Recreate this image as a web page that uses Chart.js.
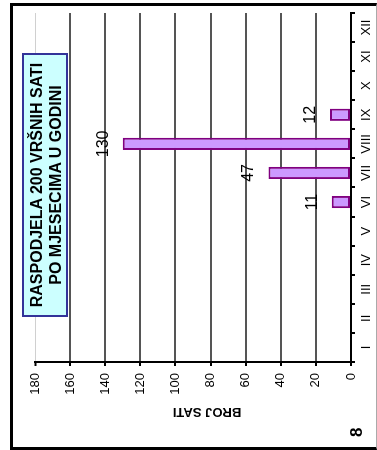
<!DOCTYPE html>
<html>
<head>
<meta charset="utf-8">
<script src="https://cdn.jsdelivr.net/npm/chart.js@4/dist/chart.umd.min.js"></script>
<style>
    html, body { margin: 0; padding: 0; background: #fff; overflow: hidden; }
    /* the whole chart is drawn upright and then turned a quarter to the left */
    #wrap {
        position: absolute; left: 0; top: 0;
        width: 450px; height: 377px;
        transform-origin: 0 0;
        transform: translate(0, 450px) rotate(-90deg);
        font-family: "Liberation Sans", Arial, sans-serif;
    }
    #chart { position: absolute; left: 0; top: 0; }
    #frame {
        position: absolute; left: 0; top: 10px; width: 447px; height: 367px;
        box-sizing: border-box;
        border-top: 3px solid #000; border-left: 3px solid #000; border-right: 3px solid #000;
        border-bottom: 1px solid #aaa;
        pointer-events: none;
    }
    #titleBox {
        position: absolute; left: 133px; top: 22px; width: 264px; height: 46px;
        box-sizing: border-box; border: 2px solid #333399; background: #ccffff;
        font-weight: bold; font-size: 16px; line-height: 19px; text-align: center;
        padding-top: 2.5px; color: #000;
    }
    #pageNo {
        position: absolute; left: 13px; top: 348px;
        font-weight: bold; font-size: 17px; line-height: 17px; color: #000;
    }
</style>
</head>
<body>
<div id="wrap">
    <canvas id="chart" width="450" height="377"></canvas>
    <div id="frame"></div>
    <div id="titleBox">RASPODJELA 200 VRŠNIH SATI<br>PO MJESECIMA U GODINI</div>
    <div id="pageNo">8</div>
</div>
<script>
// Chart data
const months = ['I', 'II', 'III', 'IV', 'V', 'VI', 'VII', 'VIII', 'IX', 'X', 'XI', 'XII'];
const peakHours = [null, null, null, null, null, 11, 47, 130, 12, null, null, null];
const yMin = 0, yMax = 180, yStep = 20;
const yTitle = 'BROJ SATI';

const font = '"Liberation Sans", Arial, sans-serif';

// Numbers above the bars
const barLabels = {
    id: 'barLabels',
    afterDatasetsDraw(chart) {
        let ctx = chart.ctx;
        let meta = chart.getDatasetMeta(0);
        ctx.save();
        ctx.font = '16px ' + font;
        ctx.fillStyle = '#000';
        ctx.textAlign = 'center';
        ctx.textBaseline = 'alphabetic';
        meta.data.forEach((bar, i) => {
            let v = peakHours[i];
            if (v === null) return;
            ctx.fillText(String(v), bar.x, bar.y - 15);
        });
        ctx.restore();
    }
};

// Value axis title (sits a bit off the axis centre, like the original)
const axisTitle = {
    id: 'axisTitle',
    afterDraw(chart) {
        let ctx = chart.ctx;
        ctx.save();
        ctx.translate(38, 207);
        ctx.rotate(-Math.PI / 2);
        ctx.font = 'bold 13px ' + font;
        ctx.fillStyle = '#000';
        ctx.textAlign = 'center';
        ctx.textBaseline = 'middle';
        ctx.fillText(yTitle, 0, 0);
        ctx.restore();
    }
};

new Chart(document.getElementById('chart'), {
    type: 'bar',
    data: {
        labels: months,
        datasets: [{
            data: peakHours,
            backgroundColor: '#cc99ff',
            borderColor: '#800080',
            borderWidth: 2,
            borderSkipped: false,
            categoryPercentage: 1,
            barPercentage: 0.42
        }]
    },
    options: {
        responsive: false,
        animation: false,
        devicePixelRatio: 1,
        layout: { padding: { left: 0, right: 13, top: 35, bottom: 0 } },
        plugins: {
            legend: { display: false },
            tooltip: { enabled: false }
        },
        scales: {
            x: {
                offset: true,
                afterFit(scale) { scale.height = 26; },
                grid: {
                    offset: true,
                    drawOnChartArea: false,
                    drawTicks: true,
                    tickLength: 4,
                    color: '#000',
                    lineWidth: 2
                },
                border: { display: true, color: '#000', width: 2 },
                ticks: {
                    color: '#000',
                    padding: 4,
                    maxRotation: 0,
                    autoSkip: false,
                    font: { family: font, size: 13 }
                }
            },
            y: {
                min: yMin,
                max: yMax,
                afterFit(scale) { scale.width = 88; },
                grid: {
                    color: c => c.tick && c.tick.value === yMax ? '#d0d0d0' : '#555',
                    lineWidth: c => c.tick && c.tick.value === yMax ? 1 : 2,
                    drawTicks: true,
                    tickLength: 4,
                    tickColor: '#000',
                    tickWidth: 2
                },
                border: { display: true, color: '#000', width: 2 },
                ticks: {
                    stepSize: yStep,
                    color: '#000',
                    padding: 7,
                    font: { family: font, size: 13 }
                }
            }
        }
    },
    plugins: [barLabels, axisTitle]
});
</script>
</body>
</html>
